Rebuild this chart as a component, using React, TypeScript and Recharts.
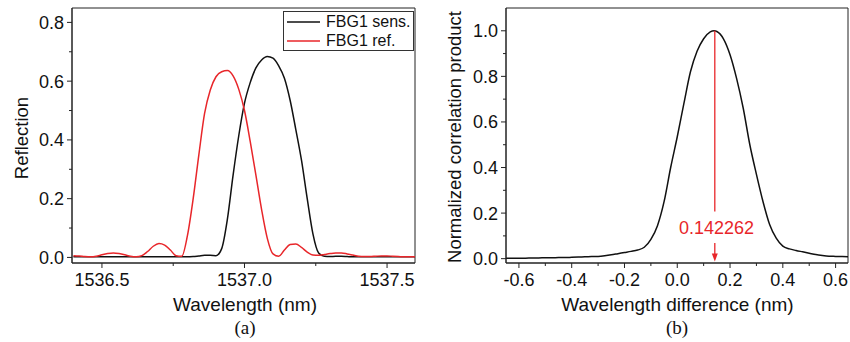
import React from 'react';
import { LineChart, Line, XAxis, YAxis, Legend, ReferenceLine, ReferenceDot, ReferenceArea } from 'recharts';

// (a) reflection spectra, nm
const wavelength = [
  1536.4, 1536.42, 1536.44, 1536.46, 1536.48, 1536.5, 1536.52, 1536.54, 1536.56, 1536.58,
  1536.6, 1536.62, 1536.64, 1536.66, 1536.68, 1536.7, 1536.72, 1536.74, 1536.76, 1536.78,
  1536.8, 1536.82, 1536.84, 1536.86, 1536.88, 1536.9, 1536.92, 1536.94, 1536.96, 1536.98,
  1537.0, 1537.02, 1537.04, 1537.06, 1537.08, 1537.1, 1537.12, 1537.14, 1537.16, 1537.18,
  1537.2, 1537.22, 1537.24, 1537.26, 1537.28, 1537.3, 1537.32, 1537.34, 1537.36, 1537.38,
  1537.4, 1537.42, 1537.44, 1537.46, 1537.48, 1537.5, 1537.52, 1537.54, 1537.56, 1537.58,
  1537.6,
];
const fbgSens = [
  0.002, 0.002, 0.002, 0.002, 0.002, 0.002, 0.002, 0.002, 0.002, 0.002,
  0.002, 0.002, 0.002, 0.002, 0.002, 0.002, 0.002, 0.002, 0.002, 0.002,
  0.002, 0.003, 0.005, 0.007, 0.007, 0.006, 0.03, 0.13, 0.28, 0.415,
  0.525, 0.595, 0.645, 0.672, 0.684, 0.678, 0.652, 0.61, 0.535, 0.435,
  0.33, 0.2, 0.08, 0.015, 0.004, 0.003, 0.004, 0.004, 0.003, 0.002,
  0.002, 0.002, 0.002, 0.002, 0.002, 0.002, 0.002, 0.002, 0.002, 0.002,
  0.002,
];
const fbgRef = [
  0.006, 0.005, 0.003, 0.002, 0.004, 0.009, 0.013, 0.015, 0.013, 0.009,
  0.004, 0.002, 0.006, 0.02, 0.038, 0.047, 0.042, 0.025, 0.006, 0.004,
  0.075, 0.2, 0.35, 0.49, 0.57, 0.615, 0.632, 0.636, 0.618, 0.572,
  0.5, 0.395, 0.28, 0.163, 0.065, 0.012, 0.004, 0.025, 0.044, 0.046,
  0.034, 0.018, 0.008, 0.007, 0.01, 0.013, 0.015, 0.015, 0.012, 0.008,
  0.004, 0.003, 0.003, 0.004, 0.005, 0.005, 0.004, 0.003, 0.002, 0.002,
  0.002,
];

// (b) correlation vs wavelength shift, nm
const shift = [
  -0.65, -0.625, -0.6, -0.575, -0.55, -0.525, -0.5, -0.475, -0.45, -0.425,
  -0.4, -0.375, -0.35, -0.325, -0.3, -0.275, -0.25, -0.225, -0.2, -0.175,
  -0.15, -0.125, -0.1, -0.075, -0.05, -0.025, 0, 0.025, 0.05, 0.075,
  0.1, 0.125, 0.14, 0.15, 0.175, 0.2, 0.225, 0.25, 0.275, 0.3,
  0.325, 0.35, 0.375, 0.4, 0.425, 0.45, 0.475, 0.5, 0.525, 0.55,
  0.575, 0.6, 0.625, 0.65,
];
const correlation = [
  0.002, 0.002, 0.002, 0.002, 0.003, 0.003, 0.004, 0.004, 0.005, 0.005,
  0.006, 0.007, 0.008, 0.009, 0.01, 0.013, 0.017, 0.022, 0.027, 0.032,
  0.038, 0.05, 0.085, 0.145, 0.25, 0.4, 0.535, 0.68, 0.82, 0.91,
  0.965, 0.995, 1.0, 0.997, 0.965, 0.895, 0.79, 0.66, 0.5, 0.37,
  0.25, 0.15, 0.09, 0.055, 0.043, 0.036, 0.03, 0.024, 0.018, 0.014,
  0.011, 0.01, 0.009, 0.008,
];
const peakShift = 0.142262;

const domXA: [number, number] = [1536.395, 1537.598];
const domYA: [number, number] = [-0.019, 0.849];
const domXB: [number, number] = [-0.649, 0.647];
const domYB: [number, number] = [-0.019, 1.1];

const xMajorA = [1536.5, 1537.0, 1537.5];
const xMinorA = [1536.75, 1537.25];
const yMajorA = [0, 0.2, 0.4, 0.6, 0.8];
const yMinorA = [0.1, 0.3, 0.5, 0.7];
const xMajorB = [-0.6, -0.4, -0.2, 0, 0.2, 0.4, 0.6];
const xMinorB = [-0.5, -0.3, -0.1, 0.1, 0.3, 0.5];
const yMajorB = [0, 0.2, 0.4, 0.6, 0.8, 1.0];
const yMinorB = [0.1, 0.3, 0.5, 0.7, 0.9];

const legendOrder = ['sens', 'ref'];

const spectra = wavelength.map((w, i) => ({ w, sens: fbgSens[i], ref: fbgRef[i] }));
const corrData = shift.map((d, i) => ({ d, corr: correlation[i] }));

const RED = '#e8262a';
const INK = '#111';
const AXIS = '#222';
const FONT = '"Liberation Sans", Arial, sans-serif';

const fmt = (v: number) => v.toFixed(1);
const isMajor = (majors: number[], v: number) => majors.some((m) => Math.abs(m - v) < 1e-9);

const makeXTick = (majors: number[]) => (props: any) => {
  const { x, y, payload } = props;
  const major = isMajor(majors, payload.value);
  return (
    <g>
      <line x1={x} x2={x} y1={y} y2={y + (major ? 5 : 3)} stroke={AXIS} />
      {major && (
        <text x={x} y={y + 23} textAnchor="middle" fontSize={18} fill={INK} fontFamily={FONT}>
          {fmt(payload.value)}
        </text>
      )}
    </g>
  );
};

const makeYTick = (majors: number[]) => (props: any) => {
  const { x, y, payload } = props;
  const major = isMajor(majors, payload.value);
  return (
    <g>
      <line x1={x} x2={x - (major ? 5 : 3)} y1={y} y2={y} stroke={AXIS} />
      {major && (
        <text x={x - 8} y={y + 6.5} textAnchor="end" fontSize={18} fill={INK} fontFamily={FONT}>
          {fmt(payload.value)}
        </text>
      )}
    </g>
  );
};

const FbgLegend = (props: any) => {
  const items = [...(props.payload || [])].sort(
    (a: any, b: any) => legendOrder.indexOf(a.dataKey) - legendOrder.indexOf(b.dataKey),
  );
  return (
    <div
      style={{
        width: 131,
        height: 40,
        boxSizing: 'border-box',
        border: '1px solid #333',
        background: '#fff',
        fontFamily: FONT,
        fontSize: 16,
        color: INK,
      }}
    >
      {items.map((e: any) => (
        <div key={e.value} style={{ display: 'flex', alignItems: 'center', height: 19 }}>
          <svg width={33} height={4} style={{ marginLeft: 3 }}>
            <line x1={0} x2={33} y1={2} y2={2} stroke={e.color} strokeWidth={1.5} />
          </svg>
          <span style={{ marginLeft: 6, lineHeight: 1 }}>{e.value}</span>
        </div>
      ))}
    </div>
  );
};

const ArrowDown = (p: any) => {
  const { x1, y1, x2, y2 } = p;
  return (
    <g>
      <line x1={x1} y1={y1} x2={x2} y2={y2 - 7} stroke={RED} strokeWidth={1.3} />
      <path d={`M${x2 - 3},${y2 - 8} L${x2 + 3},${y2 - 8} L${x2},${y2} Z`} fill={RED} />
    </g>
  );
};

const txt: React.CSSProperties = {
  position: 'absolute',
  fontFamily: FONT,
  color: INK,
  lineHeight: 1,
  whiteSpace: 'nowrap',
  transform: 'translate(-50%, -50%)',
};
const cap: React.CSSProperties = {
  ...txt,
  fontFamily: '"Liberation Serif", "Times New Roman", serif',
  fontSize: 19,
};

export default function App() {
  return (
    <div style={{ position: 'absolute', left: 0, top: 0, width: 850, height: 342, background: '#fff' }}>
      <div style={{ position: 'absolute', left: 0, top: 0 }}>
        <LineChart width={425} height={342} data={spectra} margin={{ top: 8, right: 10, bottom: 0, left: 0 }}>
          <XAxis
            dataKey="w"
            type="number"
            domain={domXA}
            allowDataOverflow
            ticks={[...xMajorA, ...xMinorA]}
            interval={0}
            tick={makeXTick(xMajorA)}
            tickLine={false}
            tickSize={0}
            tickMargin={0}
            height={79}
            stroke={AXIS}
          />
          <YAxis
            type="number"
            domain={domYA}
            allowDataOverflow
            ticks={[...yMajorA, ...yMinorA]}
            interval={0}
            tick={makeYTick(yMajorA)}
            tickLine={false}
            tickSize={0}
            tickMargin={0}
            width={72}
            stroke={AXIS}
          />
          <ReferenceArea x1={domXA[0]} x2={domXA[1]} y1={domYA[0]} y2={domYA[1]} fill="none" stroke={AXIS} strokeWidth={1} />
          <Legend
            layout="vertical"
            align="center"
            verticalAlign="middle"
            content={FbgLegend}
            wrapperStyle={{ left: 283, top: 11, width: 131, height: 40 }}
          />
          <Line type="monotone" dataKey="sens" name="FBG1 sens." stroke={INK} strokeWidth={1.5} dot={false} isAnimationActive={false} />
          <Line type="monotone" dataKey="ref" name="FBG1 ref." stroke={RED} strokeWidth={1.5} dot={false} isAnimationActive={false} />
        </LineChart>
      </div>

      <div style={{ position: 'absolute', left: 425, top: 0 }}>
        <LineChart width={425} height={342} data={corrData} margin={{ top: 8, right: 2, bottom: 0, left: 0 }}>
          <XAxis
            dataKey="d"
            type="number"
            domain={domXB}
            allowDataOverflow
            ticks={[...xMajorB, ...xMinorB]}
            interval={0}
            tick={makeXTick(xMajorB)}
            tickLine={false}
            tickSize={0}
            tickMargin={0}
            height={79}
            stroke={AXIS}
          />
          <YAxis
            type="number"
            domain={domYB}
            allowDataOverflow
            ticks={[...yMajorB, ...yMinorB]}
            interval={0}
            tick={makeYTick(yMajorB)}
            tickLine={false}
            tickSize={0}
            tickMargin={0}
            width={81}
            stroke={AXIS}
          />
          <ReferenceArea x1={domXB[0]} x2={domXB[1]} y1={domYB[0]} y2={domYB[1]} fill="none" stroke={AXIS} strokeWidth={1} />
          <Line type="monotone" dataKey="corr" stroke={INK} strokeWidth={1.5} dot={false} isAnimationActive={false} />
          <ReferenceLine
            segment={[{ x: peakShift, y: 1.0 }, { x: peakShift, y: 0.207 }]}
            stroke={RED}
            strokeWidth={1.3}
          />
          <ReferenceLine
            segment={[{ x: peakShift, y: 0.069 }, { x: peakShift, y: -0.012 }]}
            stroke={RED}
            shape={ArrowDown}
          />
          <ReferenceDot
            x={0.149}
            y={0.135}
            r={0}
            fill="none"
            stroke="none"
            label={{ value: String(peakShift), position: 'center', fill: RED, fontSize: 18, fontFamily: FONT }}
          />
        </LineChart>
      </div>

      <div style={{ ...txt, left: 245, top: 304, fontSize: 19 }}>Wavelength (nm)</div>
      <div style={{ ...txt, left: 21.5, top: 137.5, fontSize: 18.5, transform: 'translate(-50%, -50%) rotate(-90deg)' }}>
        Reflection
      </div>
      <div style={{ ...txt, left: 677.5, top: 304, fontSize: 19 }}>Wavelength difference (nm)</div>
      <div style={{ ...txt, left: 455, top: 136.5, fontSize: 18.5, transform: 'translate(-50%, -50%) rotate(-90deg)' }}>
        Normalized correlation product
      </div>
      <div style={{ ...cap, left: 245, top: 326.5 }}>(a)</div>
      <div style={{ ...cap, left: 677, top: 326.5 }}>(b)</div>
    </div>
  );
}
